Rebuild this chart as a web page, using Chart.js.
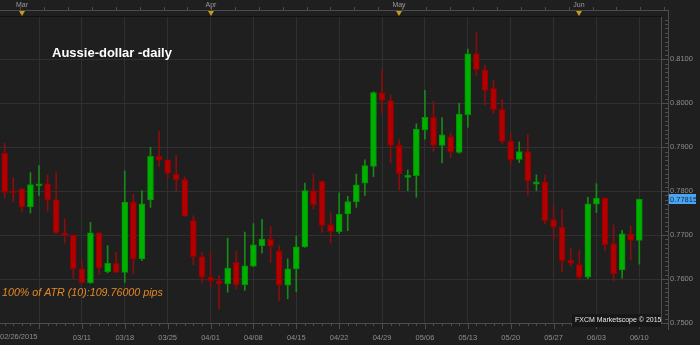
<!DOCTYPE html>
<html>
<head>
<meta charset="utf-8">
<script src="https://cdn.jsdelivr.net/npm/chart.js"></script>
<style>
  html, body { margin: 0; padding: 0; background: #1f1f1f; }
  #grafico { display: block; }
</style>
</head>
<body>
<canvas id="grafico" width="700" height="345"></canvas>
<script>
// daily candles, 02/26/2015 .. 06/10/2015 (one per weekday)
const opens = [
  0.7886, 0.7799, 0.7805, 0.7764, 0.7812, 0.7817, 0.7780, 0.7705, 0.7700, 0.7623,
  0.7591, 0.7705, 0.7617, 0.7636, 0.7615, 0.7775, 0.7646, 0.7780, 0.7879, 0.7871,
  0.7839, 0.7826, 0.7733, 0.7651, 0.7604, 0.7596, 0.7589, 0.7638, 0.7587, 0.7629,
  0.7676, 0.7691, 0.7664, 0.7586, 0.7623, 0.7673, 0.7801, 0.7823, 0.7724, 0.7708,
  0.7748, 0.7776, 0.7818, 0.7856, 0.8024, 0.8006, 0.7904, 0.7831, 0.7835, 0.7939,
  0.7968, 0.7904, 0.7924, 0.7888, 0.7974, 0.8112, 0.8076, 0.8034, 0.7986, 0.7913,
  0.7872, 0.7890, 0.7816, 0.7821, 0.7735, 0.7718, 0.7643, 0.7633, 0.7604, 0.7770,
  0.7784, 0.7680, 0.7621, 0.7703, 0.7688
];
const highs = [
  0.7909, 0.7831, 0.7806, 0.7842, 0.7858, 0.7837, 0.7842, 0.7737, 0.7700, 0.7642,
  0.7729, 0.7705, 0.7676, 0.7661, 0.7846, 0.7793, 0.7801, 0.7900, 0.7936, 0.7871,
  0.7881, 0.7832, 0.7744, 0.7661, 0.7661, 0.7608, 0.7693, 0.7663, 0.7707, 0.7726,
  0.7736, 0.7720, 0.7676, 0.7646, 0.7698, 0.7818, 0.7839, 0.7823, 0.7751, 0.7796,
  0.7788, 0.7839, 0.7871, 0.8026, 0.8076, 0.8019, 0.7917, 0.7848, 0.7953, 0.8029,
  0.8004, 0.7967, 0.7932, 0.8000, 0.8123, 0.8161, 0.8087, 0.8051, 0.8008, 0.7932,
  0.7912, 0.7929, 0.7837, 0.7837, 0.7767, 0.7759, 0.7671, 0.7665, 0.7786, 0.7817,
  0.7785, 0.7723, 0.7711, 0.7721, 0.7782
];
const lows = [
  0.7784, 0.7776, 0.7754, 0.7750, 0.7790, 0.7754, 0.7703, 0.7682, 0.7602, 0.7591,
  0.7590, 0.7610, 0.7614, 0.7615, 0.7592, 0.7611, 0.7642, 0.7763, 0.7856, 0.7830,
  0.7801, 0.7743, 0.7633, 0.7591, 0.7582, 0.7532, 0.7570, 0.7577, 0.7574, 0.7628,
  0.7659, 0.7638, 0.7551, 0.7555, 0.7571, 0.7672, 0.7759, 0.7706, 0.7682, 0.7704,
  0.7710, 0.7763, 0.7790, 0.7833, 0.7977, 0.7864, 0.7803, 0.7801, 0.7786, 0.7918,
  0.7890, 0.7864, 0.7876, 0.7886, 0.7945, 0.8063, 0.7996, 0.7977, 0.7908, 0.7860,
  0.7865, 0.7791, 0.7801, 0.7726, 0.7691, 0.7616, 0.7629, 0.7597, 0.7601, 0.7751,
  0.7664, 0.7596, 0.7602, 0.7644, 0.7634
];
const closes = [
  0.7797, 0.7796, 0.7764, 0.7815, 0.7815, 0.7780, 0.7705, 0.7699, 0.7623, 0.7591,
  0.7705, 0.7625, 0.7636, 0.7615, 0.7775, 0.7646, 0.7771, 0.7879, 0.7871, 0.7841,
  0.7826, 0.7743, 0.7651, 0.7604, 0.7596, 0.7589, 0.7625, 0.7587, 0.7630, 0.7678,
  0.7691, 0.7674, 0.7586, 0.7623, 0.7673, 0.7801, 0.7769, 0.7722, 0.7708, 0.7748,
  0.7776, 0.7814, 0.7858, 0.8024, 0.8006, 0.7904, 0.7839, 0.7836, 0.7941, 0.7968,
  0.7904, 0.7928, 0.7889, 0.7975, 0.8112, 0.8076, 0.8029, 0.7985, 0.7913, 0.7871,
  0.7890, 0.7823, 0.7821, 0.7733, 0.7718, 0.7642, 0.7636, 0.7604, 0.7771, 0.7784,
  0.7678, 0.7612, 0.7703, 0.7688, 0.77815
];

const yTicks = [0.75, 0.76, 0.77, 0.78, 0.79, 0.80, 0.81];
const xTickIdx = [4, 9, 14, 19, 24, 29, 34, 39, 44, 49, 54, 59, 64, 69, 74];
const xTickLabels = ['', '03/11', '03/18', '03/25', '04/01', '04/08', '04/15', '04/22',
                     '04/29', '05/06', '05/13', '05/20', '05/27', '06/03', '06/10'];
const firstLabel = '02/26/2015';
const monthLabels = ['Mar', 'Apr', 'May', 'Jun'];
const monthIdx = [2, 24, 46, 67];
const lastPrice = 0.77815;
const titulo = 'Aussie-dollar -daily';
const atrTexto = '100% of ATR (10):109.76000 pips';
const marca = 'FXCM Marketscope \u00a9 2015';

const BG = '#1f1f1f';
const GRID = '#303030';
const AXIS = '#4d4d4d';
const LABEL = '#8e8e8e';
const FONT = '"Liberation Sans", Arial, sans-serif';

const idx = opens.map((_, i) => i);
const sobe = opens.map((o, i) => closes[i] >= o);

const extras = {
  id: 'extras',
  beforeDraw(chart) {
    const c = chart.ctx;
    c.save();
    c.fillStyle = BG;
    c.fillRect(0, 0, chart.width, chart.height);
    c.restore();
  },
  afterDraw(chart) {
    const c = chart.ctx;
    const x = chart.scales.x, y = chart.scales.y;
    const a = chart.chartArea;
    c.save();

    // top strip with month markers
    c.strokeStyle = AXIS;
    c.lineWidth = 1;
    c.beginPath();
    c.moveTo(0, 10.5); c.lineTo(668, 10.5);
    for (let k = 1.84; k < 77; k += 2.78) {
      const px = Math.round(x.getPixelForValue(k)) + 0.5;
      c.moveTo(px, 7); c.lineTo(px, 10.5);
    }
    c.stroke();
    c.strokeStyle = '#111';
    c.beginPath();
    c.moveTo(0, a.top - 0.5); c.lineTo(a.right, a.top - 0.5);
    c.stroke();

    c.font = '7px ' + FONT;
    c.fillStyle = '#9a9a9a';
    c.textAlign = 'center';
    c.textBaseline = 'middle';
    monthLabels.forEach((m, j) => {
      const px = Math.round(x.getPixelForValue(monthIdx[j]));
      c.fillText(m, px, 5);
      c.fillStyle = '#c99a12';
      c.beginPath();
      c.moveTo(px - 3, 11); c.lineTo(px + 3, 11); c.lineTo(px, 16); c.closePath();
      c.fill();
      c.fillStyle = '#9a9a9a';
    });

    // right axis frame + ticks
    c.strokeStyle = AXIS;
    c.beginPath();
    c.moveTo(668.5, 10); c.lineTo(668.5, 330);
    c.moveTo(a.right + 0.5, a.top); c.lineTo(a.right + 0.5, a.bottom);
    for (let v = 0.750; v <= 0.8195; v += 0.001) {
      const py = Math.round(y.getPixelForValue(v)) + 0.5;
      const major = Math.abs(v * 100 - Math.round(v * 100)) < 1e-6;
      c.moveTo(major ? 662 : 665, py); c.lineTo(668.5, py);
    }
    // bottom axis + ticks
    c.moveTo(0, a.bottom + 0.5); c.lineTo(668.5, a.bottom + 0.5);
    for (let k = 0; k <= 76; k++) {
      const px = Math.round(x.getPixelForValue(k)) + 0.5;
      const major = xTickIdx.includes(k);
      c.moveTo(px, a.bottom + 1); c.lineTo(px, a.bottom + (major ? 6 : 3));
    }
    c.stroke();

    c.font = '7.5px ' + FONT;
    c.fillStyle = LABEL;
    c.textAlign = 'left';
    c.textBaseline = 'middle';
    c.fillText(firstLabel, 0, 337);

    // last price tag
    const py = y.getPixelForValue(lastPrice);
    c.fillStyle = '#4ba4f0';
    c.fillRect(669, Math.round(py) - 5, 27, 10);
    c.fillStyle = '#0c2a52';
    c.fillText(lastPrice.toFixed(5), 670, Math.round(py) + 0.5);

    // title, ATR note, watermark
    c.font = 'bold 13px ' + FONT;
    c.fillStyle = '#ffffff';
    c.fillText(titulo, 52, 53.5);

    c.font = 'italic 10.7px ' + FONT;
    c.fillStyle = '#e38a26';
    c.fillText(atrTexto, 2, 293);

    c.fillStyle = '#171717';
    c.fillRect(572, 314, 89, 13);
    c.font = '7px ' + FONT;
    c.fillStyle = '#e8e8e8';
    c.fillText(marca, 575, 320.5);

    c.restore();
  }
};

new Chart(document.getElementById('grafico'), {
  type: 'bar',
  data: {
    datasets: [
      {
        label: 'corpo',
        data: idx.map(i => ({ x: i, y: [opens[i], closes[i]] })),
        backgroundColor: sobe.map(u => u ? '#00b000' : '#b00000'),
        borderColor: sobe.map(u => u ? '#009000' : '#900000'),
        borderWidth: 1,
        borderSkipped: false,
        barThickness: 6,
        minBarLength: 2,
        grouped: false
      },
      {
        label: 'pavio',
        data: idx.map(i => ({ x: i, y: [lows[i], highs[i]] })),
        backgroundColor: sobe.map(u => u ? '#178a17' : '#8a0c0c'),
        barThickness: 1,
        grouped: false
      }
    ]
  },
  options: {
    responsive: false,
    animation: false,
    events: [],
    layout: { padding: { left: 0, right: 0, top: 17, bottom: 0 } },
    plugins: { legend: { display: false }, tooltip: { enabled: false } },
    scales: {
      x: {
        type: 'linear',
        min: -0.55,
        max: 76.53,
        offset: false,
        grid: { offset: false, color: GRID, drawTicks: false },
        border: { display: false },
        afterBuildTicks: s => { s.ticks = xTickIdx.map(v => ({ value: v })); },
        afterFit: s => { s.height = 22; },
        ticks: {
          autoSkip: false,
          maxRotation: 0,
          minRotation: 0,
          padding: 10,
          color: LABEL,
          font: { family: FONT, size: 7.5 },
          callback: v => xTickLabels[xTickIdx.indexOf(v)]
        }
      },
      y: {
        position: 'right',
        min: 0.75,
        max: 0.8196,
        grid: { color: GRID, drawTicks: false },
        border: { display: false },
        afterBuildTicks: s => { s.ticks = yTicks.map(v => ({ value: v })); },
        afterFit: s => { s.width = 39; },
        ticks: {
          padding: 9,
          color: LABEL,
          font: { family: FONT, size: 7.5 },
          callback: v => v.toFixed(4)
        }
      }
    }
  },
  plugins: [extras]
});
</script>
</body>
</html>
